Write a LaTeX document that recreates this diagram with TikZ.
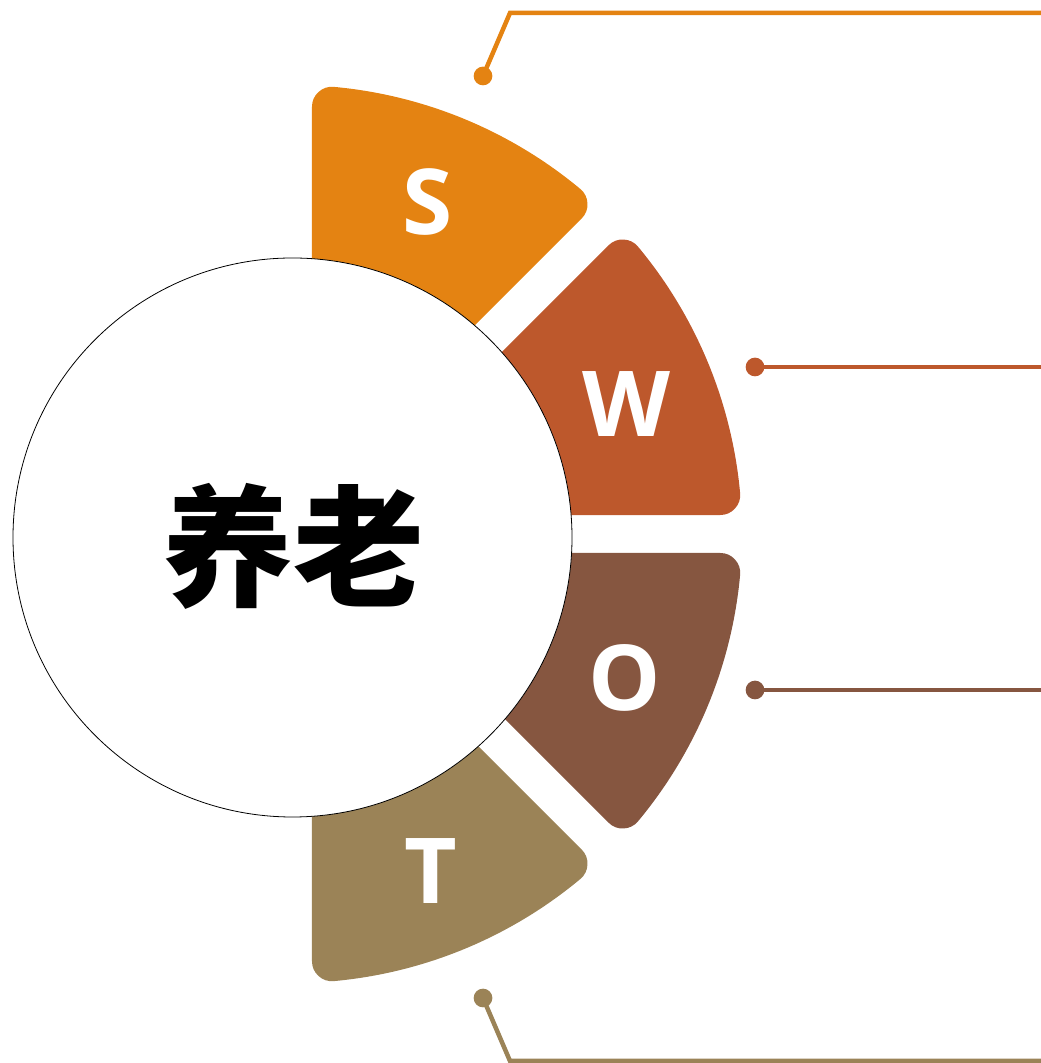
\documentclass[tikz,border=0pt]{standalone}
\usepackage{fontspec}
\newfontfamily\latf{Open Sans}
\newfontfamily\cjk{Noto Sans CJK SC}
\definecolor{cS}{HTML}{E48312}
\definecolor{cW}{HTML}{BD582C}
\definecolor{cO}{HTML}{865640}
\definecolor{cT}{HTML}{9B8357}
\tikzset{
  sector/.style={line width=40pt, line join=round},
  letter/.style={text=white, inner sep=0pt, font=\latf\bfseries\fontsize{91}{91}\selectfont},
  dotnode/.style={circle, inner sep=0pt, minimum size=18.7pt},
  conn/.style={line width=4.5pt, line join=miter},
}
\begin{document}
\begin{tikzpicture}[x=1pt,y=1pt]
\useasboundingbox (0,0) rectangle (1041,1063);
% sectors
\begin{scope}[shift={(293,529)}]
\foreach \a/\col in {45/cS, 0/cW, -45/cO, -90/cT}{
  \pgfmathsetmacro{\ao}{asin(39/429)}
  \pgfmathsetmacro{\ai}{asin(39/200)}
  \filldraw[sector, draw=\col, fill=\col]
    ({\a+\ai}:200) -- ({\a+\ao}:429)
    arc[start angle={\a+\ao}, end angle={\a+45-\ao}, radius=429]
    -- ({\a+45-\ai}:200)
    arc[start angle={\a+45-\ai}, end angle={\a+\ai}, radius=200]
    -- cycle;
}
\end{scope}
% central circle
\node[circle, draw=black, line width=0.8pt, fill=white, minimum size=559pt, inner sep=0pt] (hub) at (292.5,525.5) {};
\node[inner sep=0pt, font=\cjk\bfseries\fontsize{131}{131}\selectfont] (title) at (293,517) {养老};
% letters
\node[letter] (lS) at (428,861) {S};
\node[letter] (lW) at (626,659) {W};
\node[letter] (lO) at (625,385) {O};
\node[letter] (lT) at (430.5,192) {T};
% connectors
\node[dotnode, fill=cS] (dS) at (483,987) {};
\coordinate (kS) at (510,1050);
\coordinate (eS) at (1041,1050);
\draw[conn, cS] (dS.center) -- (kS) -- (eS);
\node[dotnode, fill=cW] (dW) at (755,696) {};
\coordinate (eW) at (1041,696);
\draw[conn, cW] (dW.center) -- (eW);
\node[dotnode, fill=cO] (dO) at (755,373) {};
\coordinate (eO) at (1041,373);
\draw[conn, cO] (dO.center) -- (eO);
\node[dotnode, fill=cT] (dT) at (483,65) {};
\coordinate (kT) at (510,2);
\coordinate (eT) at (1041,2);
\draw[conn, cT] (dT.center) -- (kT) -- (eT);
\end{tikzpicture}
\end{document}
